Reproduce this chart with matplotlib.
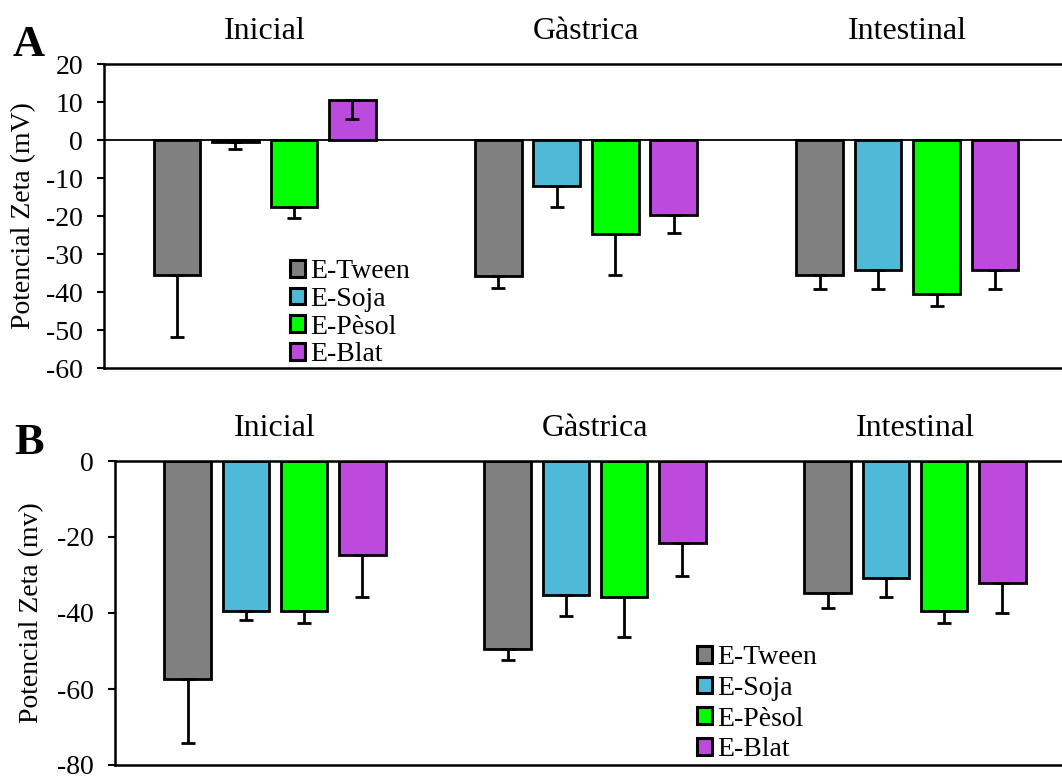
import matplotlib
matplotlib.use("Agg")
import matplotlib.pyplot as plt
from matplotlib.patches import Patch
import numpy as np

plt.rcParams["font.family"] = ["Liberation Serif", "DejaVu Serif"]

# categories and series
groups = ["Inicial", "Gàstrica", "Intestinal"]
series = ["E-Tween", "E-Soja", "E-Pèsol", "E-Blat"]
colors = ["#808080", "#4FBAD8", "#00FF00", "#BB4ADD"]

# panel A values (mV) and errors
a_tween = [-35.4, -35.8, -35.4]
a_tween_err = [16.5, 3.1, 3.8]
a_soja = [-0.4, -12.2, -34.1]
a_soja_err = [2.0, 5.5, 5.1]
a_pesol = [-17.5, -24.7, -40.5]
a_pesol_err = [3.0, 10.7, 3.2]
a_blat = [10.5, -19.7, -34.1]
a_blat_err = [5.0, 4.9, 5.1]

# panel B values (mV) and errors
b_tween = [-57.4, -49.5, -34.8]
b_tween_err = [16.9, 2.9, 3.8]
b_soja = [-39.6, -35.3, -30.9]
b_soja_err = [2.2, 5.5, 4.8]
b_pesol = [-39.4, -35.7, -39.5]
b_pesol_err = [3.1, 10.7, 3.2]
b_blat = [-24.7, -21.7, -32.2]
b_blat_err = [11.0, 8.5, 7.7]

a_ticks = [20, 10, 0, -10, -20, -30, -40, -50, -60]
b_ticks = [0, -20, -40, -60, -80]

W, H = 1062, 776
fig = plt.figure(figsize=(W / 100, H / 100), dpi=100)

ax_a = fig.add_axes([104 / W, 1 - 368 / H, 964 / W, 304 / H])
ax_b = fig.add_axes([115 / W, 1 - 765 / H, 960 / W, 304 / H])

x = np.arange(len(groups))
width = 0.145
pitch = 0.182


def draw_panel(ax, vals, errs, ticks, ylabel, label_x, legend_xy, lab_spacing):
    for i, (v, e) in enumerate(zip(vals, errs)):
        pos = x + (i - 1.5) * pitch
        ax.bar(pos, v, width, color=colors[i], edgecolor="black",
               linewidth=2, zorder=2)
        ax.errorbar(pos, v, yerr=[e, np.zeros(len(e))], fmt="none",
                    ecolor="black", elinewidth=2, capsize=5, capthick=2,
                    zorder=3)
    ax.axhline(0, color="black", linewidth=1.3, zorder=1)
    ax.set_xlim(-0.5, 2.5)
    ax.set_ylim(ticks[-1], ticks[0])
    ax.set_yticks(ticks)
    ax.set_yticklabels([str(t) for t in ticks])
    ax.tick_params(axis="y", direction="out", length=5, width=1.5,
                   labelsize=20, pad=10)
    ax.set_xticks([])
    ax.spines["right"].set_visible(False)
    for s in ["left", "top", "bottom"]:
        ax.spines[s].set_linewidth(1.8)
    for gx, g in zip(x, groups):
        ax.text(gx, 1.108, g, transform=ax.get_xaxis_transform(),
                ha="center", va="center", fontsize=23)
    pos = ax.get_position()
    fig.text(label_x / W, (pos.y0 + pos.y1) / 2, ylabel, rotation=90,
             ha="center", va="center", fontsize=20)
    handles = [Patch(facecolor=c, edgecolor="black", linewidth=2.2)
               for c in colors]
    ax.legend(handles, series, loc="upper left",
              bbox_to_anchor=(legend_xy[0] / W, 1 - legend_xy[1] / H),
              bbox_transform=fig.transFigure, frameon=False, fontsize=20,
              handlelength=0.55, handleheight=0.55, handletextpad=0.18,
              labelspacing=lab_spacing, borderpad=0, borderaxespad=0)


draw_panel(ax_a, [a_tween, a_soja, a_pesol, a_blat],
           [a_tween_err, a_soja_err, a_pesol_err, a_blat_err],
           a_ticks, "Potencial Zeta (mV)", 24, (290, 259), 0.1)
draw_panel(ax_b, [b_tween, b_soja, b_pesol, b_blat],
           [b_tween_err, b_soja_err, b_pesol_err, b_blat_err],
           b_ticks, "Potencial Zeta (mv)", 32, (697, 645), 0.21)

# panel letters
fig.text(29 / W, 1 - 45 / H, "A", fontsize=32, fontweight="bold",
         ha="center", va="center")
fig.text(29 / W, 1 - 443 / H, "B", fontsize=32, fontweight="bold",
         ha="center", va="center")

fig.savefig("out.png", dpi=100)
